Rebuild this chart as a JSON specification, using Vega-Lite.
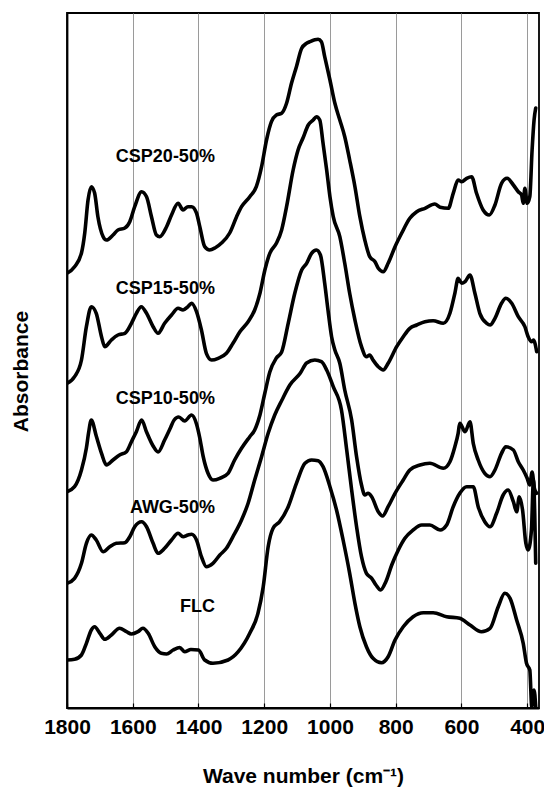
{
  "$schema": "https://vega.github.io/schema/vega-lite/v6.json",
  "autosize": {"type": "none"},
  "padding": {"left": 67, "top": 13, "right": 5, "bottom": 87},
  "width": 472,
  "height": 695,
  "background": "white",
  "config": {
    "view": {"stroke": "black", "strokeWidth": 1.8},
    "font": "Liberation Sans"
  },
  "datasets": {
    "spectra": [
      {"s":"CSP20","wn":1800,"a":4.347},{"s":"CSP20","wn":1777,"a":4.413},{"s":"CSP20","wn":1756,"a":4.55},{"s":"CSP20","wn":1746,"a":4.75},{"s":"CSP20","wn":1736,"a":5.08},{"s":"CSP20","wn":1726,"a":5.213},{"s":"CSP20","wn":1716,"a":5.15},{"s":"CSP20","wn":1706,"a":4.913},{"s":"CSP20","wn":1690,"a":4.713},{"s":"CSP20","wn":1680,"a":4.68},{"s":"CSP20","wn":1660,"a":4.73},{"s":"CSP20","wn":1645,"a":4.78},{"s":"CSP20","wn":1624,"a":4.8},{"s":"CSP20","wn":1609,"a":4.863},{"s":"CSP20","wn":1594,"a":5.013},{"s":"CSP20","wn":1573,"a":5.163},{"s":"CSP20","wn":1558,"a":5.113},{"s":"CSP20","wn":1543,"a":4.913},{"s":"CSP20","wn":1528,"a":4.73},{"s":"CSP20","wn":1518,"a":4.713},{"s":"CSP20","wn":1497,"a":4.813},{"s":"CSP20","wn":1482,"a":4.93},{"s":"CSP20","wn":1462,"a":5.047},{"s":"CSP20","wn":1447,"a":4.98},{"s":"CSP20","wn":1432,"a":5.013},{"s":"CSP20","wn":1421,"a":5.013},{"s":"CSP20","wn":1406,"a":4.95},{"s":"CSP20","wn":1396,"a":4.813},{"s":"CSP20","wn":1381,"a":4.613},{"s":"CSP20","wn":1366,"a":4.58},{"s":"CSP20","wn":1350,"a":4.6},{"s":"CSP20","wn":1330,"a":4.65},{"s":"CSP20","wn":1305,"a":4.75},{"s":"CSP20","wn":1284,"a":4.913},{"s":"CSP20","wn":1269,"a":5.013},{"s":"CSP20","wn":1244,"a":5.113},{"s":"CSP20","wn":1224,"a":5.213},{"s":"CSP20","wn":1208,"a":5.413},{"s":"CSP20","wn":1193,"a":5.68},{"s":"CSP20","wn":1178,"a":5.863},{"s":"CSP20","wn":1163,"a":5.93},{"s":"CSP20","wn":1147,"a":5.947},{"s":"CSP20","wn":1132,"a":6.047},{"s":"CSP20","wn":1117,"a":6.247},{"s":"CSP20","wn":1102,"a":6.413},{"s":"CSP20","wn":1086,"a":6.597},{"s":"CSP20","wn":1071,"a":6.647},{"s":"CSP20","wn":1061,"a":6.663},{"s":"CSP20","wn":1036,"a":6.687},{"s":"CSP20","wn":1026,"a":6.663},{"s":"CSP20","wn":1016,"a":6.513},{"s":"CSP20","wn":1000,"a":6.28},{"s":"CSP20","wn":985,"a":6.047},{"s":"CSP20","wn":970,"a":5.88},{"s":"CSP20","wn":955,"a":5.713},{"s":"CSP20","wn":940,"a":5.48},{"s":"CSP20","wn":924,"a":5.213},{"s":"CSP20","wn":909,"a":4.913},{"s":"CSP20","wn":894,"a":4.68},{"s":"CSP20","wn":879,"a":4.513},{"s":"CSP20","wn":863,"a":4.463},{"s":"CSP20","wn":853,"a":4.397},{"s":"CSP20","wn":838,"a":4.363},{"s":"CSP20","wn":823,"a":4.447},{"s":"CSP20","wn":802,"a":4.613},{"s":"CSP20","wn":782,"a":4.747},{"s":"CSP20","wn":757,"a":4.897},{"s":"CSP20","wn":736,"a":4.963},{"s":"CSP20","wn":711,"a":4.997},{"s":"CSP20","wn":681,"a":5.04},{"s":"CSP20","wn":665,"a":5.007},{"s":"CSP20","wn":640,"a":4.997},{"s":"CSP20","wn":625,"a":5.147},{"s":"CSP20","wn":610,"a":5.28},{"s":"CSP20","wn":599,"a":5.263},{"s":"CSP20","wn":584,"a":5.297},{"s":"CSP20","wn":569,"a":5.313},{"s":"CSP20","wn":554,"a":5.147},{"s":"CSP20","wn":534,"a":4.98},{"s":"CSP20","wn":515,"a":4.93},{"s":"CSP20","wn":498,"a":5.03},{"s":"CSP20","wn":478,"a":5.247},{"s":"CSP20","wn":461,"a":5.297},{"s":"CSP20","wn":442,"a":5.23},{"s":"CSP20","wn":427,"a":5.163},{"s":"CSP20","wn":417,"a":5.13},{"s":"CSP20","wn":412,"a":5.047},{"s":"CSP20","wn":407,"a":5.197},{"s":"CSP20","wn":400,"a":5.047},{"s":"CSP20","wn":392,"a":5.113},{"s":"CSP20","wn":385,"a":5.58},{"s":"CSP20","wn":379,"a":5.88},{"s":"CSP20","wn":374,"a":6.0},

      {"s":"CSP15","wn":1800,"a":3.247},{"s":"CSP15","wn":1777,"a":3.313},{"s":"CSP15","wn":1756,"a":3.48},{"s":"CSP15","wn":1741,"a":3.813},{"s":"CSP15","wn":1726,"a":4.013},{"s":"CSP15","wn":1711,"a":3.947},{"s":"CSP15","wn":1695,"a":3.713},{"s":"CSP15","wn":1685,"a":3.613},{"s":"CSP15","wn":1665,"a":3.68},{"s":"CSP15","wn":1645,"a":3.73},{"s":"CSP15","wn":1624,"a":3.747},{"s":"CSP15","wn":1604,"a":3.847},{"s":"CSP15","wn":1589,"a":3.947},{"s":"CSP15","wn":1574,"a":4.013},{"s":"CSP15","wn":1558,"a":3.947},{"s":"CSP15","wn":1538,"a":3.813},{"s":"CSP15","wn":1523,"a":3.747},{"s":"CSP15","wn":1503,"a":3.847},{"s":"CSP15","wn":1482,"a":3.93},{"s":"CSP15","wn":1462,"a":3.997},{"s":"CSP15","wn":1447,"a":3.98},{"s":"CSP15","wn":1432,"a":4.013},{"s":"CSP15","wn":1421,"a":4.047},{"s":"CSP15","wn":1406,"a":3.963},{"s":"CSP15","wn":1391,"a":3.78},{"s":"CSP15","wn":1376,"a":3.547},{"s":"CSP15","wn":1360,"a":3.48},{"s":"CSP15","wn":1340,"a":3.497},{"s":"CSP15","wn":1315,"a":3.547},{"s":"CSP15","wn":1295,"a":3.647},{"s":"CSP15","wn":1274,"a":3.763},{"s":"CSP15","wn":1249,"a":3.863},{"s":"CSP15","wn":1229,"a":3.98},{"s":"CSP15","wn":1213,"a":4.147},{"s":"CSP15","wn":1198,"a":4.38},{"s":"CSP15","wn":1183,"a":4.547},{"s":"CSP15","wn":1163,"a":4.647},{"s":"CSP15","wn":1147,"a":4.78},{"s":"CSP15","wn":1132,"a":5.013},{"s":"CSP15","wn":1112,"a":5.38},{"s":"CSP15","wn":1097,"a":5.58},{"s":"CSP15","wn":1082,"a":5.7},{"s":"CSP15","wn":1066,"a":5.83},{"s":"CSP15","wn":1051,"a":5.88},{"s":"CSP15","wn":1041,"a":5.913},{"s":"CSP15","wn":1031,"a":5.88},{"s":"CSP15","wn":1021,"a":5.647},{"s":"CSP15","wn":1010,"a":5.38},{"s":"CSP15","wn":1000,"a":5.113},{"s":"CSP15","wn":990,"a":4.913},{"s":"CSP15","wn":970,"a":4.713},{"s":"CSP15","wn":955,"a":4.447},{"s":"CSP15","wn":940,"a":4.147},{"s":"CSP15","wn":924,"a":3.88},{"s":"CSP15","wn":904,"a":3.613},{"s":"CSP15","wn":889,"a":3.513},{"s":"CSP15","wn":879,"a":3.53},{"s":"CSP15","wn":869,"a":3.48},{"s":"CSP15","wn":853,"a":3.413},{"s":"CSP15","wn":838,"a":3.38},{"s":"CSP15","wn":823,"a":3.447},{"s":"CSP15","wn":797,"a":3.613},{"s":"CSP15","wn":777,"a":3.713},{"s":"CSP15","wn":757,"a":3.797},{"s":"CSP15","wn":736,"a":3.83},{"s":"CSP15","wn":711,"a":3.863},{"s":"CSP15","wn":686,"a":3.873},{"s":"CSP15","wn":655,"a":3.847},{"s":"CSP15","wn":635,"a":3.947},{"s":"CSP15","wn":620,"a":4.147},{"s":"CSP15","wn":610,"a":4.297},{"s":"CSP15","wn":599,"a":4.247},{"s":"CSP15","wn":589,"a":4.263},{"s":"CSP15","wn":574,"a":4.33},{"s":"CSP15","wn":559,"a":4.147},{"s":"CSP15","wn":544,"a":3.947},{"s":"CSP15","wn":523,"a":3.847},{"s":"CSP15","wn":513,"a":3.83},{"s":"CSP15","wn":498,"a":3.897},{"s":"CSP15","wn":478,"a":4.047},{"s":"CSP15","wn":465,"a":4.097},{"s":"CSP15","wn":447,"a":4.047},{"s":"CSP15","wn":427,"a":3.913},{"s":"CSP15","wn":407,"a":3.813},{"s":"CSP15","wn":397,"a":3.713},{"s":"CSP15","wn":386,"a":3.663},{"s":"CSP15","wn":381,"a":3.68},{"s":"CSP15","wn":371,"a":3.563},

      {"s":"CSP10","wn":1800,"a":2.163},{"s":"CSP10","wn":1777,"a":2.213},{"s":"CSP10","wn":1756,"a":2.38},{"s":"CSP10","wn":1741,"a":2.6},{"s":"CSP10","wn":1734,"a":2.76},{"s":"CSP10","wn":1726,"a":2.88},{"s":"CSP10","wn":1711,"a":2.72},{"s":"CSP10","wn":1695,"a":2.547},{"s":"CSP10","wn":1680,"a":2.43},{"s":"CSP10","wn":1660,"a":2.48},{"s":"CSP10","wn":1640,"a":2.53},{"s":"CSP10","wn":1619,"a":2.563},{"s":"CSP10","wn":1604,"a":2.663},{"s":"CSP10","wn":1589,"a":2.763},{"s":"CSP10","wn":1573,"a":2.88},{"s":"CSP10","wn":1558,"a":2.76},{"s":"CSP10","wn":1538,"a":2.62},{"s":"CSP10","wn":1523,"a":2.56},{"s":"CSP10","wn":1503,"a":2.68},{"s":"CSP10","wn":1487,"a":2.79},{"s":"CSP10","wn":1474,"a":2.88},{"s":"CSP10","wn":1460,"a":2.91},{"s":"CSP10","wn":1442,"a":2.87},{"s":"CSP10","wn":1421,"a":2.93},{"s":"CSP10","wn":1406,"a":2.84},{"s":"CSP10","wn":1396,"a":2.7},{"s":"CSP10","wn":1386,"a":2.52},{"s":"CSP10","wn":1371,"a":2.347},{"s":"CSP10","wn":1356,"a":2.28},{"s":"CSP10","wn":1335,"a":2.297},{"s":"CSP10","wn":1310,"a":2.347},{"s":"CSP10","wn":1290,"a":2.48},{"s":"CSP10","wn":1269,"a":2.597},{"s":"CSP10","wn":1244,"a":2.713},{"s":"CSP10","wn":1229,"a":2.78},{"s":"CSP10","wn":1213,"a":2.93},{"s":"CSP10","wn":1198,"a":3.15},{"s":"CSP10","wn":1183,"a":3.36},{"s":"CSP10","wn":1163,"a":3.5},{"s":"CSP10","wn":1147,"a":3.56},{"s":"CSP10","wn":1127,"a":3.847},{"s":"CSP10","wn":1107,"a":4.147},{"s":"CSP10","wn":1086,"a":4.38},{"s":"CSP10","wn":1071,"a":4.447},{"s":"CSP10","wn":1056,"a":4.547},{"s":"CSP10","wn":1041,"a":4.58},{"s":"CSP10","wn":1029,"a":4.53},{"s":"CSP10","wn":1016,"a":4.247},{"s":"CSP10","wn":1006,"a":3.98},{"s":"CSP10","wn":995,"a":3.713},{"s":"CSP10","wn":985,"a":3.58},{"s":"CSP10","wn":970,"a":3.447},{"s":"CSP10","wn":955,"a":3.18},{"s":"CSP10","wn":934,"a":2.88},{"s":"CSP10","wn":919,"a":2.513},{"s":"CSP10","wn":904,"a":2.23},{"s":"CSP10","wn":894,"a":2.13},{"s":"CSP10","wn":884,"a":2.147},{"s":"CSP10","wn":873,"a":2.113},{"s":"CSP10","wn":853,"a":1.963},{"s":"CSP10","wn":840,"a":1.92},{"s":"CSP10","wn":823,"a":2.013},{"s":"CSP10","wn":802,"a":2.147},{"s":"CSP10","wn":777,"a":2.28},{"s":"CSP10","wn":757,"a":2.38},{"s":"CSP10","wn":726,"a":2.43},{"s":"CSP10","wn":696,"a":2.447},{"s":"CSP10","wn":655,"a":2.397},{"s":"CSP10","wn":635,"a":2.463},{"s":"CSP10","wn":620,"a":2.613},{"s":"CSP10","wn":610,"a":2.747},{"s":"CSP10","wn":605,"a":2.847},{"s":"CSP10","wn":589,"a":2.763},{"s":"CSP10","wn":574,"a":2.863},{"s":"CSP10","wn":564,"a":2.647},{"s":"CSP10","wn":549,"a":2.48},{"s":"CSP10","wn":529,"a":2.347},{"s":"CSP10","wn":513,"a":2.313},{"s":"CSP10","wn":498,"a":2.38},{"s":"CSP10","wn":478,"a":2.547},{"s":"CSP10","wn":465,"a":2.613},{"s":"CSP10","wn":442,"a":2.58},{"s":"CSP10","wn":427,"a":2.463},{"s":"CSP10","wn":412,"a":2.38},{"s":"CSP10","wn":400,"a":2.297},{"s":"CSP10","wn":392,"a":2.23},{"s":"CSP10","wn":385,"a":2.36},{"s":"CSP10","wn":378,"a":2.197},{"s":"CSP10","wn":371,"a":2.147},

      {"s":"AWG","wn":1800,"a":1.247},{"s":"AWG","wn":1777,"a":1.297},{"s":"AWG","wn":1756,"a":1.447},{"s":"AWG","wn":1741,"a":1.647},{"s":"AWG","wn":1726,"a":1.73},{"s":"AWG","wn":1711,"a":1.68},{"s":"AWG","wn":1690,"a":1.563},{"s":"AWG","wn":1670,"a":1.613},{"s":"AWG","wn":1650,"a":1.647},{"s":"AWG","wn":1624,"a":1.653},{"s":"AWG","wn":1609,"a":1.713},{"s":"AWG","wn":1594,"a":1.813},{"s":"AWG","wn":1573,"a":1.863},{"s":"AWG","wn":1558,"a":1.813},{"s":"AWG","wn":1538,"a":1.647},{"s":"AWG","wn":1523,"a":1.547},{"s":"AWG","wn":1503,"a":1.597},{"s":"AWG","wn":1482,"a":1.68},{"s":"AWG","wn":1462,"a":1.747},{"s":"AWG","wn":1447,"a":1.713},{"s":"AWG","wn":1432,"a":1.73},{"s":"AWG","wn":1421,"a":1.737},{"s":"AWG","wn":1406,"a":1.68},{"s":"AWG","wn":1391,"a":1.513},{"s":"AWG","wn":1376,"a":1.413},{"s":"AWG","wn":1356,"a":1.447},{"s":"AWG","wn":1335,"a":1.53},{"s":"AWG","wn":1315,"a":1.597},{"s":"AWG","wn":1295,"a":1.713},{"s":"AWG","wn":1269,"a":1.88},{"s":"AWG","wn":1249,"a":2.047},{"s":"AWG","wn":1229,"a":2.28},{"s":"AWG","wn":1208,"a":2.513},{"s":"AWG","wn":1188,"a":2.747},{"s":"AWG","wn":1168,"a":2.93},{"s":"AWG","wn":1146,"a":3.08},{"s":"AWG","wn":1122,"a":3.23},{"s":"AWG","wn":1090,"a":3.35},{"s":"AWG","wn":1071,"a":3.45},{"s":"AWG","wn":1046,"a":3.48},{"s":"AWG","wn":1026,"a":3.463},{"s":"AWG","wn":1010,"a":3.38},{"s":"AWG","wn":990,"a":3.213},{"s":"AWG","wn":965,"a":2.98},{"s":"AWG","wn":949,"a":2.58},{"s":"AWG","wn":934,"a":2.18},{"s":"AWG","wn":919,"a":1.813},{"s":"AWG","wn":904,"a":1.513},{"s":"AWG","wn":889,"a":1.347},{"s":"AWG","wn":873,"a":1.297},{"s":"AWG","wn":860,"a":1.23},{"s":"AWG","wn":846,"a":1.18},{"s":"AWG","wn":830,"a":1.263},{"s":"AWG","wn":812,"a":1.43},{"s":"AWG","wn":792,"a":1.58},{"s":"AWG","wn":772,"a":1.697},{"s":"AWG","wn":747,"a":1.78},{"s":"AWG","wn":721,"a":1.83},{"s":"AWG","wn":696,"a":1.83},{"s":"AWG","wn":665,"a":1.78},{"s":"AWG","wn":645,"a":1.83},{"s":"AWG","wn":625,"a":2.013},{"s":"AWG","wn":605,"a":2.147},{"s":"AWG","wn":584,"a":2.213},{"s":"AWG","wn":564,"a":2.213},{"s":"AWG","wn":549,"a":2.013},{"s":"AWG","wn":529,"a":1.863},{"s":"AWG","wn":513,"a":1.813},{"s":"AWG","wn":493,"a":1.947},{"s":"AWG","wn":473,"a":2.13},{"s":"AWG","wn":458,"a":2.18},{"s":"AWG","wn":442,"a":2.063},{"s":"AWG","wn":432,"a":1.963},{"s":"AWG","wn":424,"a":2.113},{"s":"AWG","wn":414,"a":1.98},{"s":"AWG","wn":404,"a":1.647},{"s":"AWG","wn":397,"a":1.58},{"s":"AWG","wn":387,"a":1.78},{"s":"AWG","wn":381,"a":2.28},{"s":"AWG","wn":377,"a":1.95},{"s":"AWG","wn":374,"a":1.447},

      {"s":"FLC","wn":1800,"a":0.48},{"s":"FLC","wn":1777,"a":0.487},{"s":"FLC","wn":1756,"a":0.53},{"s":"FLC","wn":1741,"a":0.647},{"s":"FLC","wn":1726,"a":0.78},{"s":"FLC","wn":1716,"a":0.813},{"s":"FLC","wn":1700,"a":0.747},{"s":"FLC","wn":1685,"a":0.687},{"s":"FLC","wn":1665,"a":0.73},{"s":"FLC","wn":1640,"a":0.797},{"s":"FLC","wn":1619,"a":0.763},{"s":"FLC","wn":1604,"a":0.74},{"s":"FLC","wn":1584,"a":0.763},{"s":"FLC","wn":1569,"a":0.797},{"s":"FLC","wn":1553,"a":0.747},{"s":"FLC","wn":1533,"a":0.613},{"s":"FLC","wn":1513,"a":0.547},{"s":"FLC","wn":1497,"a":0.54},{"s":"FLC","wn":1477,"a":0.58},{"s":"FLC","wn":1457,"a":0.605},{"s":"FLC","wn":1442,"a":0.563},{"s":"FLC","wn":1423,"a":0.585},{"s":"FLC","wn":1400,"a":0.58},{"s":"FLC","wn":1381,"a":0.48},{"s":"FLC","wn":1356,"a":0.447},{"s":"FLC","wn":1310,"a":0.48},{"s":"FLC","wn":1279,"a":0.563},{"s":"FLC","wn":1244,"a":0.747},{"s":"FLC","wn":1219,"a":0.947},{"s":"FLC","wn":1203,"a":1.213},{"s":"FLC","wn":1188,"a":1.613},{"s":"FLC","wn":1173,"a":1.797},{"s":"FLC","wn":1153,"a":1.863},{"s":"FLC","wn":1127,"a":2.013},{"s":"FLC","wn":1102,"a":2.247},{"s":"FLC","wn":1076,"a":2.447},{"s":"FLC","wn":1056,"a":2.48},{"s":"FLC","wn":1036,"a":2.473},{"s":"FLC","wn":1021,"a":2.413},{"s":"FLC","wn":1000,"a":2.213},{"s":"FLC","wn":980,"a":1.98},{"s":"FLC","wn":960,"a":1.68},{"s":"FLC","wn":940,"a":1.347},{"s":"FLC","wn":924,"a":1.047},{"s":"FLC","wn":909,"a":0.813},{"s":"FLC","wn":889,"a":0.613},{"s":"FLC","wn":869,"a":0.497},{"s":"FLC","wn":843,"a":0.453},{"s":"FLC","wn":823,"a":0.513},{"s":"FLC","wn":802,"a":0.68},{"s":"FLC","wn":777,"a":0.813},{"s":"FLC","wn":747,"a":0.913},{"s":"FLC","wn":716,"a":0.953},{"s":"FLC","wn":686,"a":0.953},{"s":"FLC","wn":645,"a":0.913},{"s":"FLC","wn":605,"a":0.897},{"s":"FLC","wn":574,"a":0.83},{"s":"FLC","wn":539,"a":0.763},{"s":"FLC","wn":513,"a":0.797},{"s":"FLC","wn":488,"a":1.013},{"s":"FLC","wn":468,"a":1.147},{"s":"FLC","wn":452,"a":1.097},{"s":"FLC","wn":432,"a":0.88},{"s":"FLC","wn":412,"a":0.647},{"s":"FLC","wn":402,"a":0.447},{"s":"FLC","wn":392,"a":0.38},{"s":"FLC","wn":386,"a":0.013},{"s":"FLC","wn":379,"a":0.18},{"s":"FLC","wn":374,"a":0.013}
    ],
    "labels": [
      {"label": "CSP20-50%", "wn": 1350, "a": 5.51},
      {"label": "CSP15-50%", "wn": 1350, "a": 4.19},
      {"label": "CSP10-50%", "wn": 1350, "a": 3.09},
      {"label": "AWG-50%", "wn": 1350, "a": 2.0},
      {"label": "FLC", "wn": 1350, "a": 1.01}
    ]
  },
  "layer": [
    {
      "data": {"name": "spectra"},
      "mark": {"type": "line", "color": "black", "strokeWidth": 3.6, "interpolate": "monotone", "strokeJoin": "round", "strokeCap": "round", "clip": true},
      "encoding": {
        "x": {
          "field": "wn",
          "type": "quantitative",
          "scale": {"domain": [364, 1800], "reverse": true, "nice": false, "zero": false},
          "axis": {
            "title": "Wave number (cm⁻¹)",
            "values": [1800,1750,1700,1650,1600,1550,1500,1450,1400,1350,1300,1250,1200,1150,1100,1050,1000,950,900,850,800,750,700,650,600,550,500,450,400],
            "format": "d",
            "labelExpr": "datum.value % 200 === 0 ? datum.label : ''",
            "labelOverlap": false,
            "labelFlush": false,
            "labelBound": false,
            "grid": true,
            "gridColor": "#9a9a9a",
            "gridWidth": 1,
            "gridOpacity": {"condition": {"test": "datum.value % 200 === 0 && datum.value < 1800", "value": 1}, "value": 0},
            "tickSize": -5,
            "tickColor": "black",
            "tickWidth": 1.2,
            "domainColor": "black",
            "domainWidth": 1.8,
            "labelFont": "Liberation Sans",
            "labelFontWeight": "bold",
            "labelFontSize": 21,
            "labelColor": "black",
            "labelPadding": 13,
            "titleFont": "Liberation Sans",
            "titleFontWeight": "bold",
            "titleFontSize": 21,
            "titleColor": "black",
            "titlePadding": 28
          }
        },
        "y": {
          "field": "a",
          "type": "quantitative",
          "scale": {"domain": [0, 6.95], "nice": false, "zero": false},
          "axis": {
            "title": "Absorbance",
            "labels": false,
            "ticks": false,
            "grid": false,
            "domainColor": "black",
            "domainWidth": 1.8,
            "titleFont": "Liberation Sans",
            "titleFontWeight": "bold",
            "titleFontSize": 21,
            "titleColor": "black",
            "titlePadding": 36,
            "titleY": 358
          }
        },
        "detail": {"field": "s", "type": "nominal"}
      }
    },
    {
      "data": {"name": "labels"},
      "mark": {"type": "text", "align": "right", "baseline": "middle", "font": "Liberation Sans", "fontWeight": "bold", "fontSize": 18, "color": "black"},
      "encoding": {
        "x": {"field": "wn", "type": "quantitative"},
        "y": {"field": "a", "type": "quantitative"},
        "text": {"field": "label", "type": "nominal"}
      }
    }
  ]
}
